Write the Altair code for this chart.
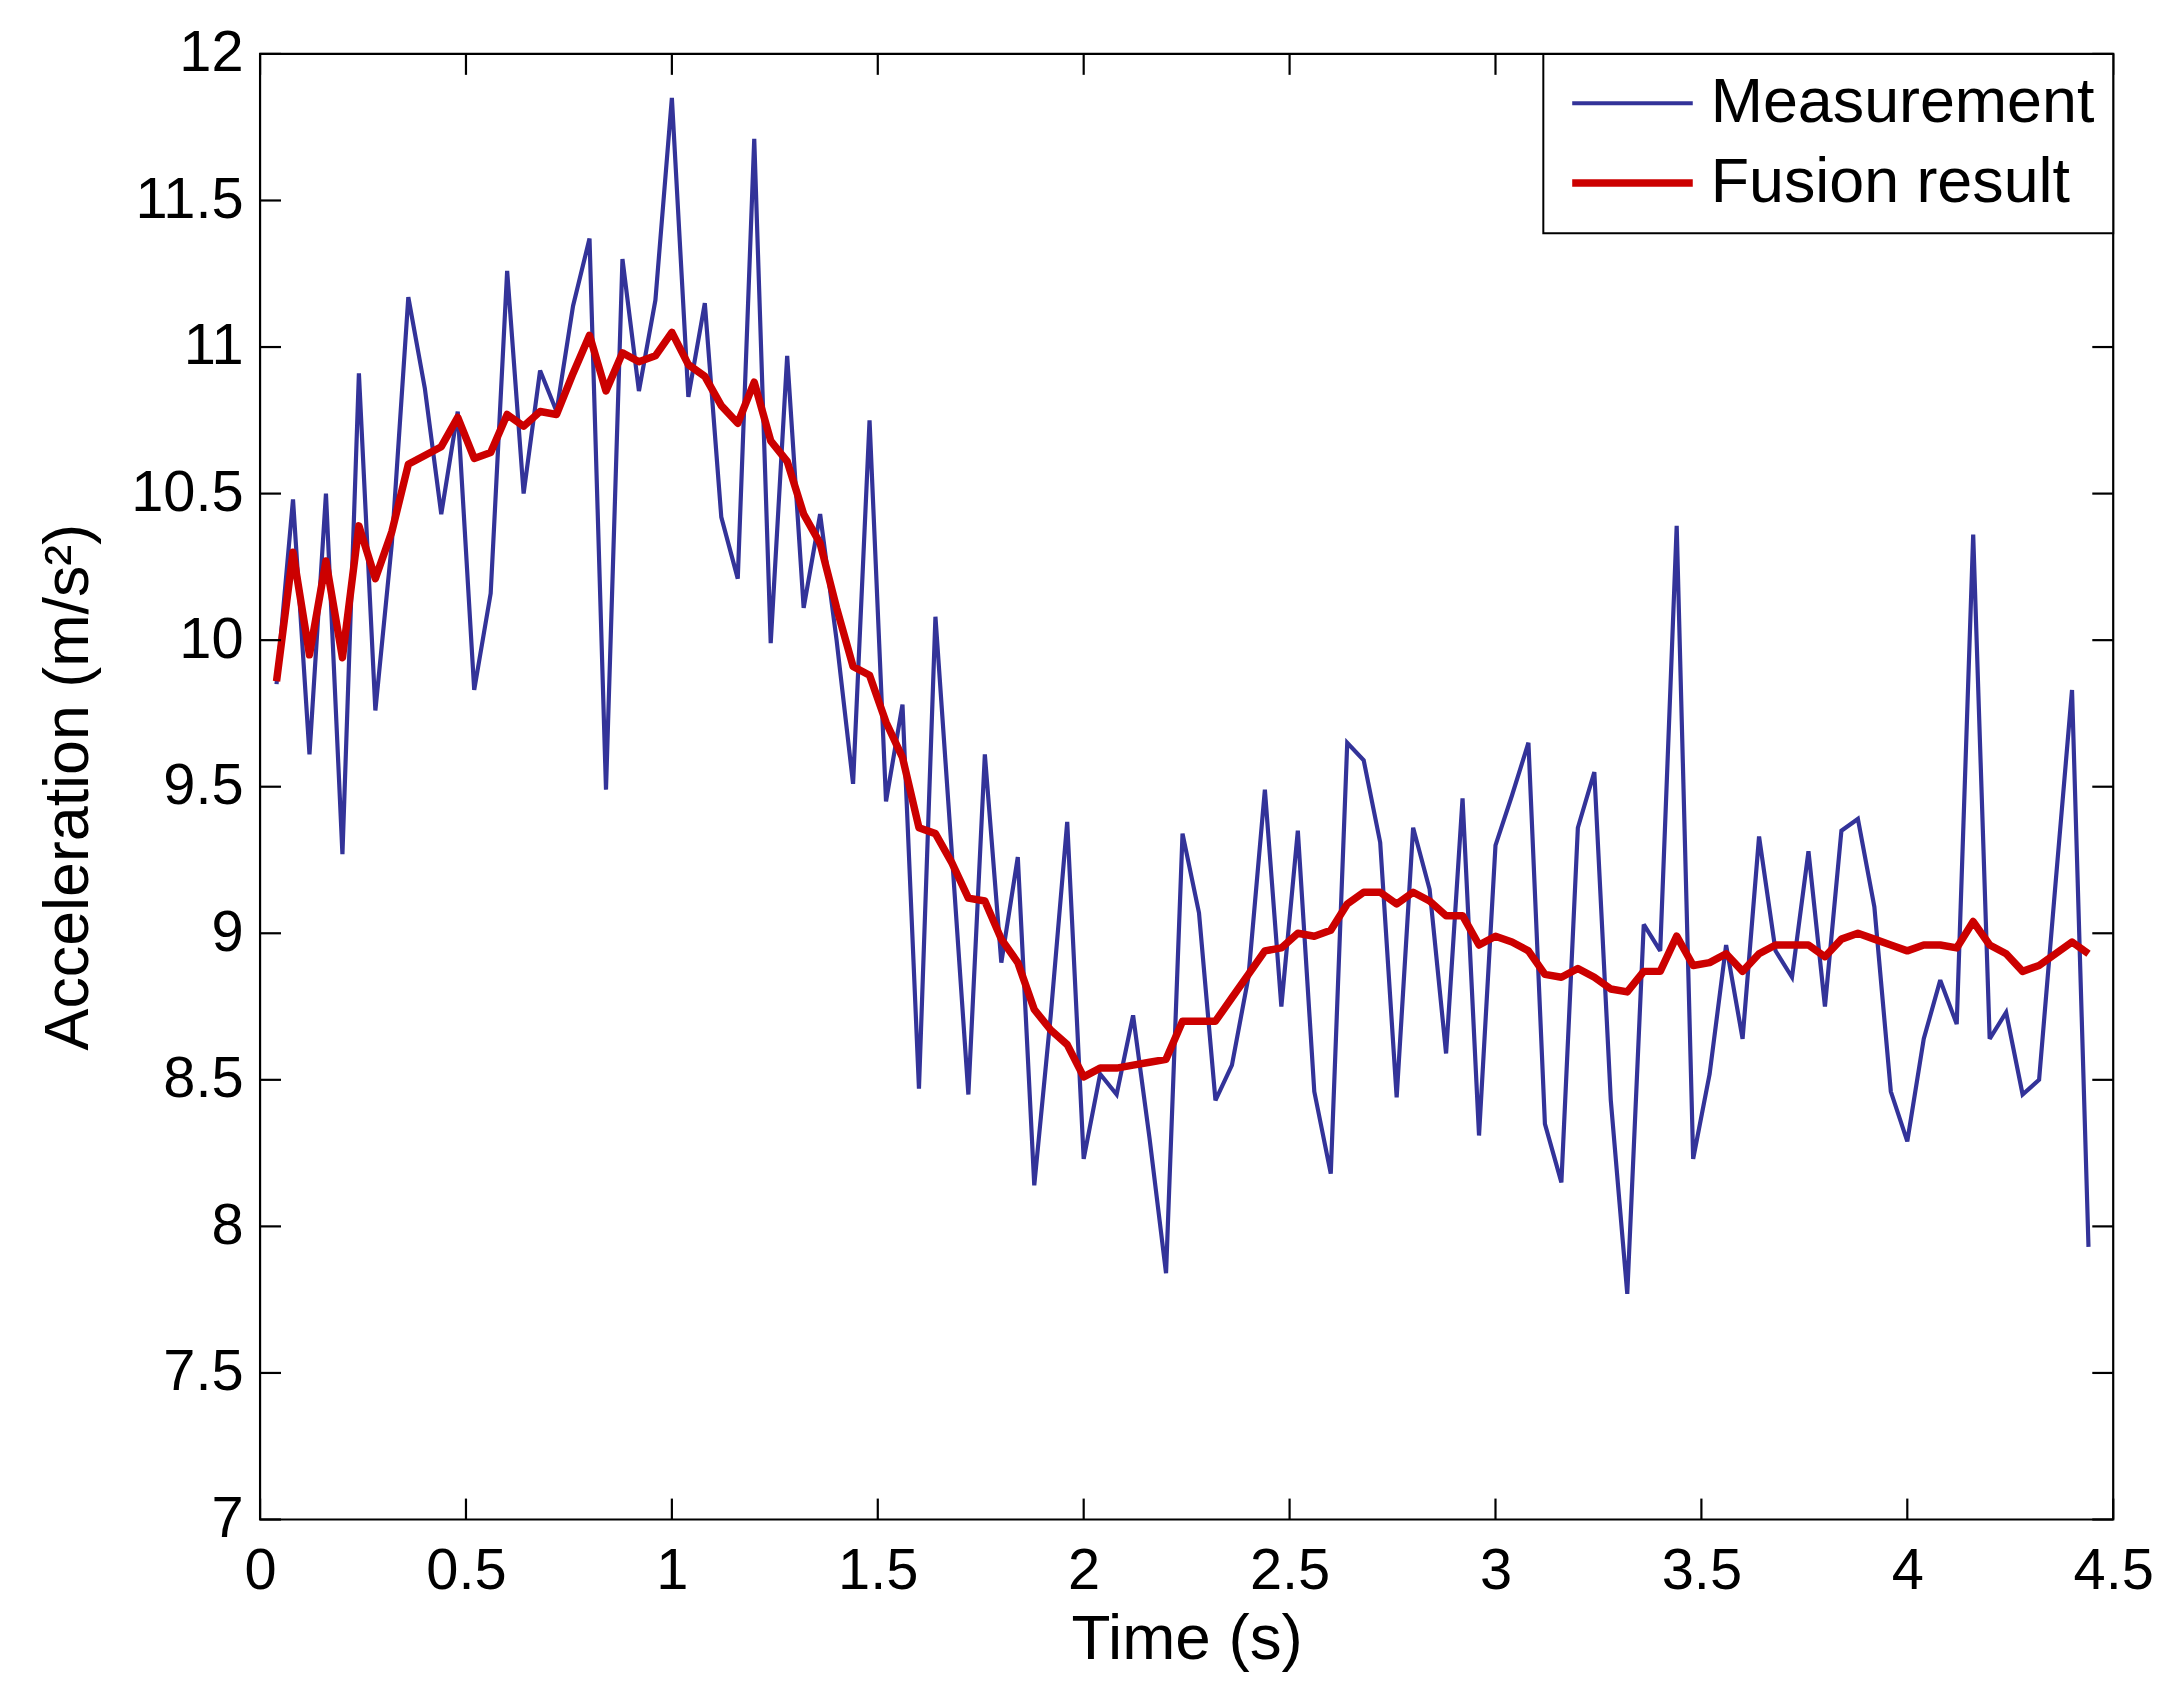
import altair as alt
import pandas as pd

# ---- data ----
measurement = [
    9.85, 10.48, 9.61, 10.50, 9.27, 10.91, 9.76, 10.33, 11.17, 10.86,
    10.43, 10.78, 9.83, 10.16, 11.26, 10.50, 10.92, 10.78, 11.14, 11.37,
    9.49, 11.30, 10.85, 11.16, 11.85, 10.83, 11.15, 10.42, 10.21, 11.71,
    9.99, 10.97, 10.11, 10.43, 10.00, 9.51, 10.75, 9.45, 9.78, 8.47,
    10.08, 9.27, 8.45, 9.61, 8.90, 9.26, 8.14, 8.72, 9.38, 8.23,
    8.52, 8.45, 8.72, 8.30, 7.84, 9.34, 9.07, 8.43, 8.55, 8.85,
    9.49, 8.75, 9.35, 8.46, 8.18, 9.65, 9.59, 9.31, 8.44, 9.36,
    9.15, 8.59, 9.46, 8.31, 9.30, 9.47, 9.65, 8.35, 8.15, 9.36,
    9.55, 8.43, 7.77, 9.03, 8.94, 10.39, 8.23, 8.52, 8.96, 8.64,
    9.33, 8.94, 8.85, 9.28, 8.75, 9.35, 9.39, 9.09, 8.46, 8.29,
    8.64, 8.84, 8.69, 10.36, 8.64, 8.73, 8.45, 8.50, 9.17, 9.83,
    7.93,
]
fusion = [
    9.86, 10.30, 9.95, 10.27, 9.94, 10.39, 10.21, 10.37, 10.60, 10.63,
    10.66, 10.76, 10.62, 10.64, 10.77, 10.73, 10.78, 10.77, 10.91, 11.04,
    10.85, 10.98, 10.95, 10.97, 11.05, 10.94, 10.90, 10.80, 10.74, 10.88,
    10.68, 10.61, 10.43, 10.33, 10.11, 9.91, 9.88, 9.72, 9.60, 9.36,
    9.34, 9.24, 9.12, 9.11, 8.98, 8.90, 8.74, 8.67, 8.62, 8.51,
    8.54, 8.54, 8.55, 8.56, 8.57, 8.70, 8.70, 8.70, 8.78, 8.86,
    8.94, 8.95, 9.00, 8.99, 9.01, 9.10, 9.14, 9.14, 9.10, 9.14,
    9.11, 9.06, 9.06, 8.96, 8.99, 8.97, 8.94, 8.86, 8.85, 8.88,
    8.85, 8.81, 8.80, 8.87, 8.87, 8.99, 8.89, 8.90, 8.93, 8.87,
    8.93, 8.96, 8.96, 8.96, 8.92, 8.98, 9.00, 8.98, 8.96, 8.94,
    8.96, 8.96, 8.95, 9.04, 8.96, 8.93, 8.87, 8.89, 8.93, 8.97,
    8.93,
]
sample_step = 0.04
times = [round(sample_step * (i + 1), 2) for i in range(len(measurement))]

series_names = ["Measurement", "Fusion result"]
series_colors = ["#333399", "#cc0000"]
series_widths = [4.2, 7.5]

x_ticks = [0, 0.5, 1, 1.5, 2, 2.5, 3, 3.5, 4, 4.5]
y_ticks = [7, 7.5, 8, 8.5, 9, 9.5, 10, 10.5, 11, 11.5, 12]

W, H = 1860, 1471
TICK = 21
FONT = "Liberation Sans"

meas_df = pd.DataFrame({"time": times, "value": measurement, "series": series_names[0]})
fus_df = pd.DataFrame({"time": times, "value": fusion, "series": series_names[1]})
xt_df = pd.DataFrame({"time": x_ticks})
yt_df = pd.DataFrame({"value": y_ticks})

x_enc = alt.X(
    "time:Q",
    scale=alt.Scale(domain=[0, 4.5], nice=False, zero=False),
    axis=alt.Axis(
        values=x_ticks, format="~g", title="Time (s)", grid=False, ticks=False,
        tickSize=0, domain=False, labelFontSize=58, labelFont=FONT, labelColor="black",
        labelPadding=23, titleFontSize=64, titleFont=FONT, titleFontWeight="normal",
        titleColor="black", titlePadding=8, labelFlush=False, labelOverlap=False,
    ),
)
y_enc = alt.Y(
    "value:Q",
    scale=alt.Scale(domain=[7, 12], nice=False, zero=False),
    axis=alt.Axis(
        values=y_ticks, format="~g", title="Acceleration (m/s²)", grid=False, ticks=False,
        tickSize=0, domain=False, labelFontSize=58, labelFont=FONT, labelColor="black",
        labelPadding=17, titleFontSize=63, titleFont=FONT, titleFontWeight="normal",
        titleColor="black", titlePadding=30, labelFlush=False, labelOverlap=False,
    ),
)

legend = alt.Legend(
    title=None, orient="top-right", offset=0, padding=18,
    strokeColor="black", fillColor="white",
    symbolType="stroke", symbolSize=14641, symbolOffset=7, clipHeight=63,
    labelFontSize=63, labelFont=FONT, labelColor="black", labelOffset=14,
    labelLimit=0, rowPadding=16,
)
color_enc = alt.Color(
    "series:N",
    scale=alt.Scale(domain=series_names, range=series_colors),
    legend=legend,
)
width_enc = alt.StrokeWidth(
    "series:N",
    scale=alt.Scale(domain=series_names, range=series_widths),
    legend=legend,
)

meas_line = alt.Chart(meas_df).mark_line(strokeJoin="miter", strokeMiterLimit=3).encode(
    x=x_enc, y=y_enc, color=color_enc, strokeWidth=width_enc
)
fus_line = alt.Chart(fus_df).mark_line(strokeJoin="round").encode(
    x=x_enc, y=y_enc, color=color_enc, strokeWidth=width_enc
)

rule_style = dict(color="black", strokeWidth=2.2)
ytick_left = alt.Chart(yt_df).mark_rule(**rule_style).encode(
    y=y_enc, x=alt.value(0), x2=alt.value(TICK)
)
ytick_right = alt.Chart(yt_df).mark_rule(**rule_style).encode(
    y=y_enc, x=alt.value(W - TICK), x2=alt.value(W)
)
xtick_bottom = alt.Chart(xt_df).mark_rule(**rule_style).encode(
    x=x_enc, y=alt.value(H - TICK), y2=alt.value(H)
)
xtick_top = alt.Chart(xt_df).mark_rule(**rule_style).encode(
    x=x_enc, y=alt.value(0), y2=alt.value(TICK)
)

chart = (
    alt.layer(meas_line, fus_line, ytick_left, ytick_right, xtick_bottom, xtick_top)
    .properties(
        width=W, height=H,
        autosize=alt.AutoSizeParams(type="none"),
        padding={"left": 253, "top": 43, "right": 56, "bottom": 158},
        background="white",
    )
    .configure_view(stroke="black", strokeWidth=2.2)
    .configure_legend(strokeWidth=2)
)

chart.save("out.html", embed_options={"renderer": "svg", "actions": False})
